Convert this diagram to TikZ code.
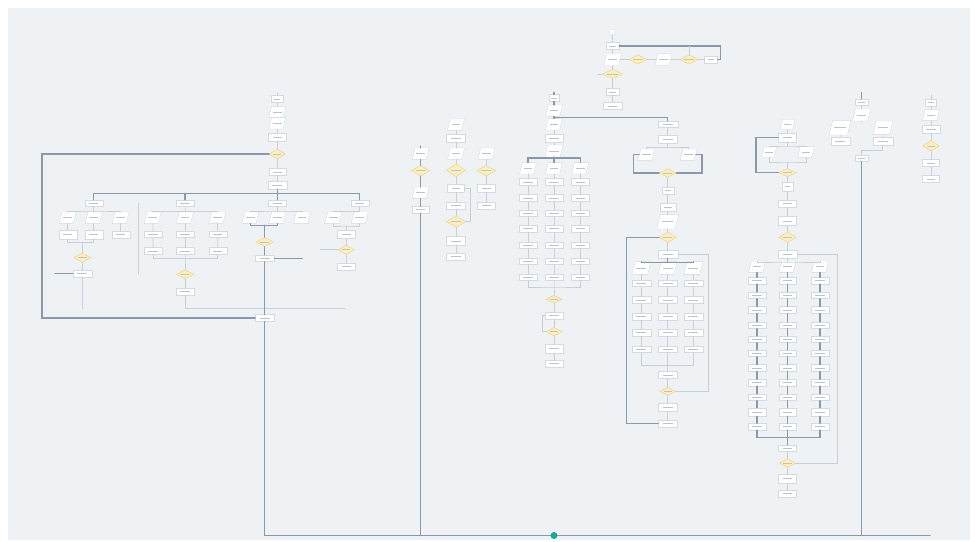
\documentclass[tikz,border=0pt]{standalone}
\usepackage{tikz}
\usetikzlibrary{shapes.geometric,calc}
\usepackage{xcolor}
\definecolor{canvas}{HTML}{EFF2F5}
\definecolor{wire}{HTML}{8A99AA}
\definecolor{wirelight}{HTML}{C6CFD9}
\definecolor{rim}{HTML}{D3DAE2}
\definecolor{decfill}{HTML}{FCEFC2}
\definecolor{decrim}{HTML}{F0D07A}
\definecolor{smear}{HTML}{BCC3CC}
\definecolor{okgreen}{HTML}{19A893}

\begin{document}
\begin{tikzpicture}[x=0.3mm,y=-0.3mm,line cap=round,
  smudge/.style={path picture={\fill[smear] ($(path picture bounding box.west)!0.24!(path picture bounding box.east)+(0,-0.3pt)$) rectangle ($(path picture bounding box.west)!0.76!(path picture bounding box.east)+(0,0.3pt)$);}},
  box/.style={draw=rim,fill=white,line width=0.3pt,inner sep=0pt,minimum width=#1*0.3mm,minimum height=2mm,smudge},
  box/.default=18,
  tall/.style={minimum height=2.5mm},
  io/.style={trapezium,trapezium left angle=76,trapezium right angle=104,draw=rim,fill=white,line width=0.3pt,inner sep=0.4pt,minimum width=#1*0.3mm,minimum height=1.6mm,smudge},
  io/.default=17,
  dec/.style={diamond,draw=decrim,fill=decfill,line width=0.4pt,inner sep=0.5pt,minimum width=#1*0.3mm,minimum height=2.8mm,smudge},
  dec/.default=17,
  flow/.style={draw=wire,line width=1.3pt},
  link/.style={draw=wirelight,line width=0.6pt}]
\useasboundingbox (0,0) rectangle (975,542);
\fill[white] (0,0) rectangle (975,542);
\fill[canvas] (8,8) rectangle (970,540);

% top start chain
\node[circle,draw=rim,fill=white,line width=0.3pt,minimum size=1.8mm,inner sep=0pt] (a0) at (612.5,32) {};
\node[box=13] (a1) at (612.5,46) {};
\node[io=18] (a2) at (612.5,59.5) {};
\node[dec=18] (a3) at (638,59.5) {};
\node[io=17] (a4) at (663.5,59.5) {};
\node[dec=18] (a5) at (689,59.5) {};
\node[box=13] (a6) at (711,59.5) {};
\node[dec=20] (a7) at (612.5,74) {};
\node[box=13] (a8) at (612.5,92) {};
\node[box=19] (a9) at (612.5,106) {};
\coordinate (a1r) at (720.7,46);
\coordinate (a7l) at (598,74);
\draw[link] (a0) -- (a1);
\draw[link] (a1) -- (a2) -- (a7) -- (a8) -- (a9);
\draw[link] (a2) -- (a3) -- (a4) -- (a5) -- (a6);
\draw[flow] (a1.east) -- (a1r) |- (a6.east);
\draw[link] (a5.north) -- (a5.north |- a1r);
\draw[link] (a7.west) -- (a7l);

% left block
\coordinate (b0) at (277.3,93);
\node[box=12] (b1) at (277.3,99) {};
\node[io=17] (b2) at (277.3,112) {};
\node[io=17] (b3) at (277.3,123.3) {};
\node[box=18,tall] (b4) at (277.3,137) {};
\node[dec=16,minimum height=3mm] (b5) at (277.3,154) {};
\node[box=17] (b6) at (277.3,172) {};
\node[box=19,tall] (b7) at (277.3,185) {};
\draw[link] (b0) -- (b1) -- (b2) -- (b3) -- (b4) -- (b5) -- (b6) -- (b7);
\node[box] (bh1) at (93.7,203.3) {};
\node[box] (bh2) at (185,203.3) {};
\node[box] (bh3) at (277.3,203.3) {};
\node[box] (bh4) at (359.7,203.3) {};
\coordinate (buse) at (359.7,193.5);
\draw[flow] (b7) -- (bh3);
\draw[flow] (bh1.north) |- (buse) -- (bh4.north);
\draw[flow] (bh2.north) -- (bh2.north |- buse);
\node[box=19] (bend) at (264.7,318) {};
\coordinate (loopc) at (42,318);
\draw[flow] (b5.west) -| (loopc) -- (bend.west);

% branch 1
\coordinate (j1) at (93.7,211);
\node[io] (bi11) at (67.7,217.7) {};
\node[io] (bi12) at (93.7,217.7) {};
\node[io] (bi13) at (120.7,217.7) {};
\node[box,tall] (bx11) at (67.7,234.7) {};
\node[box,tall] (bx12) at (93.7,234.7) {};
\node[box] (bx13) at (120.7,234.7) {};
\coordinate (m1) at (82.3,242.7);
\node[dec=17] (bd1) at (82.3,257.7) {};
\node[box=19] (bg1) at (82.3,273.7) {};
\coordinate (g1w) at (55,273.7);
\coordinate (g1s) at (82.3,308.7);
\draw[link] (bh1) -- (j1) -- (bi12);
\draw[link] (bi11.north) |- (j1) -| (bi13.north);
\draw[link] (bi11) -- (bx11);
\draw[link] (bi12) -- (bx12);
\draw[link] (bi13) -- (bx13);
\draw[link] (bx11.south) |- (m1) -| (bx12.south);
\draw[link] (m1) -- (bd1) -- (bg1) -- (g1s);
\draw[flow] (bg1.west) -- (g1w);

% branch 2
\coordinate (brk1) at (138.7,203.3);
\coordinate (brk2) at (138.7,274);
\draw[link] (brk1) -- (brk2);
\coordinate (j2) at (185,211.3);
\node[io] (bi21) at (152.7,217.7) {};
\node[io] (bi22) at (185,217.7) {};
\node[io] (bi23) at (217.3,217.7) {};
\node[box] (bx21) at (153,234.3) {};
\node[box] (bx22) at (185,234.3) {};
\node[box] (bx23) at (217.7,234.3) {};
\node[box] (by21) at (153,251) {};
\node[box] (by22) at (185,251) {};
\node[box] (by23) at (217.7,251) {};
\coordinate (m2) at (185,258.7);
\node[dec=17] (bd2) at (185,274.3) {};
\node[box] (bg2) at (185,291.7) {};
\coordinate (t2) at (345.3,308.7);
\draw[link] (bh2) -- (j2) -- (bi22);
\draw[link] (bi21.north) |- (j2) -| (bi23.north);
\draw[link] (bi21) -- (bx21) -- (by21);
\draw[link] (bi22) -- (bx22) -- (by22);
\draw[link] (bi23) -- (bx23) -- (by23);
\draw[link] (by21.south) |- (m2) -| (by23.south);
\draw[link] (by22) -- (m2) -- (bd2) -- (bg2);
\draw[link] (bg2.south) |- (t2);

% branch 3
\coordinate (j3) at (277.3,211);
\node[io] (bi31) at (250.3,217.7) {};
\node[io] (bi32) at (277.3,217.7) {};
\node[io] (bi33) at (302,217.7) {};
\coordinate (m3) at (264.7,225.3);
\node[dec=17] (bd3) at (264.7,242) {};
\node[box=19] (bg3) at (264.7,258.3) {};
\coordinate (g3e) at (302,258.3);
\draw[link] (bh3) -- (j3) -- (bi32);
\draw[link] (bi31.north) |- (j3) -| (bi33.north);
\draw[flow] (bi31.south) |- (m3) -| (bi32.south);
\draw[flow] (m3) -- (bd3) -- (bg3) -- (bend);
\draw[flow] (bg3.east) -- (g3e);

% branch 4
\coordinate (j4) at (359.7,211);
\node[io] (bi41) at (333.3,217.7) {};
\node[io] (bi42) at (359.7,217.7) {};
\coordinate (m4) at (346.3,226);
\node[box,tall] (bx41) at (346.3,234.3) {};
\node[dec=16] (bd4) at (346.3,249.7) {};
\node[box] (bg4) at (346.3,266.7) {};
\coordinate (d4w) at (320,249.7);
\draw[link] (bh4) -- (j4) -- (bi42);
\draw[link] (bi41.north) |- (j4);
\draw[link] (bi41.south) |- (m4) -| (bi42.south);
\draw[link] (m4) -- (bx41) -- (bd4) -- (bg4);
\draw[link] (bd4.west) -- (d4w);

% middle-left block
\coordinate (k0) at (420.5,146);
\node[io,minimum height=2mm] (cl1) at (420.5,153.7) {};
\node[dec=18,minimum height=3.2mm] (cl2) at (420.5,170.7) {};
\node[io] (cl3) at (420.5,192.7) {};
\node[box=17] (cl4) at (420.5,209.7) {};
\draw[flow] (k0) -- (cl1) -- (cl2) -- (cl3) -- (cl4);
\node[io,minimum height=2mm] (cm1) at (456,124.7) {};
\node[box=19,tall] (cm2) at (456,138) {};
\node[io] (cm3) at (456,153.7) {};
\node[dec=19,minimum height=3.8mm] (cm4) at (456,170.3) {};
\node[box=17,tall] (cm5) at (456,188) {};
\node[box=19] (cm6) at (456,205.7) {};
\node[dec=19,minimum height=3.3mm] (cm7) at (456,221.7) {};
\node[box=19,minimum height=2.6mm] (cm8) at (456,241) {};
\node[box=19] (cm9) at (456,256.7) {};
\draw[link] (cm1) -- (cm2) -- (cm3) -- (cm4) -- (cm5) -- (cm6) -- (cm7) -- (cm8) -- (cm9);
\draw[link] (cm5.east) -- (470,188) |- (cm7.east);
\node[io] (cr1) at (486.3,153.7) {};
\node[dec=19,minimum height=3.2mm] (cr2) at (486.3,170.7) {};
\node[box,tall] (cr3) at (486.3,188.3) {};
\node[box] (cr4) at (486.3,205.7) {};
\draw[link] (cr1) -- (cr2) -- (cr3) -- (cr4);

% centre block
\coordinate (d0) at (554,92.5);
\node[box=10] (d1) at (554,98) {};
\node[io] (d2) at (554,110.7) {};
\node[io] (d3) at (554,124.3) {};
\node[box,tall] (d4) at (554,138.3) {};
\node[io=18,minimum height=2mm] (d5) at (554,151) {};
\coordinate (dj) at (554,117.3);
\coordinate (dk) at (554,158);
\node[io] (di1) at (528,168.3) {};
\node[io] (di2) at (554,168.3) {};
\node[io] (di3) at (580.3,168.3) {};
\node[box=20] (e1) at (667.7,124.3) {};
\draw[flow] (d0) -- (d1) -- (d2) -- (d3);
\draw[flow] (dj) -| (e1.north);
\draw[link] (d3) -- (d4) -- (d5);
\draw[flow] (d5) -- (dk) -- (di2);
\draw[flow] (di1.north) |- (dk) -| (di3.north);
\foreach \c/\x in {1/528,2/554,3/580.3}{
  \foreach \r/\y in {1/182,2/198,3/213.3,4/228.7,5/245.3,6/261.3,7/277.3}
    \node[box] (dg\c-\r) at (\x,\y) {};
  \draw[link] (di\c) -- (dg\c-1);
  \foreach \r [count=\s from 2] in {1,...,6}
    \draw[link] (dg\c-\r) -- (dg\c-\s);
}
\coordinate (dm) at (554,287);
\node[dec=16,minimum height=2.4mm] (dd1) at (554,299.3) {};
\node[box] (db1) at (554,315.7) {};
\node[dec=16,minimum height=2.6mm] (dd2) at (554,331.7) {};
\node[box,minimum height=2.8mm] (db2) at (554,348.7) {};
\node[box] (db3) at (554,363.7) {};
\draw[link] (dg1-7.south) |- (dm) -| (dg3-7.south);
\draw[link] (dg2-7) -- (dm) -- (dd1) -- (db1) -- (dd2) -- (db2) -- (db3);
\draw[link] (dd2.west) -- (542,331.7) |- (db1.west);

% right-centre block
\node[box=19,tall] (e2) at (667.7,139) {};
\coordinate (ek) at (667.7,147.3);
\node[io] (ei1) at (646.3,154.7) {};
\node[io] (ei2) at (688.7,154.7) {};
\node[dec=17,minimum height=2.6mm] (ed1) at (667.7,173) {};
\node[box=12] (e5) at (667.7,190.7) {};
\node[box=16,tall] (e6) at (667.7,207) {};
\node[io=22,minimum height=2.2mm] (e7) at (667.7,221.7) {};
\node[dec=17,minimum height=3.2mm] (ed2) at (667.7,237.3) {};
\node[box=20,tall] (e9) at (667.7,254) {};
\draw[link] (e1) -- (e2) -- (ek);
\draw[link] (ei1.north) |- (ek) -| (ei2.north);
\draw[flow] (ei1.west) -- (633.3,154.7) |- (ed1.west);
\draw[flow] (ei2.east) -- (702,154.7) |- (ed1.east);
\draw[link] (ed1) -- (e5) -- (e6) -- (e7) -- (ed2) -- (e9);
\coordinate (ej) at (667.7,262.7);
\node[io=19] (ej1) at (641.3,268) {};
\node[io=19] (ej2) at (667.7,268) {};
\node[io=19] (ej3) at (693.3,268) {};
\draw[flow] (e9) -- (ej) -- (ej2);
\draw[flow] (ej1.north) |- (ej) -| (ej3.north);
\foreach \c/\x in {1/641.3,2/667.7,3/693.3}{
  \foreach \r/\y in {1/283.3,2/300,3/316.7,4/332.7,5/349.3}
    \node[box=19] (eg\c-\r) at (\x,\y) {};
  \draw[link] (ej\c) -- (eg\c-1);
  \foreach \r [count=\s from 2] in {1,...,4}
    \draw[link] (eg\c-\r) -- (eg\c-\s);
}
\coordinate (em) at (667.7,365.3);
\node[box=19] (e11) at (667.7,375) {};
\node[dec=16,minimum height=2.4mm] (ed3) at (667.7,391.3) {};
\node[box=19,tall] (e13) at (667.7,407.3) {};
\node[box=19] (e14) at (667.7,423.7) {};
\draw[link] (eg1-5.south) |- (em) -| (eg3-5.south);
\draw[link] (eg2-5) -- (em) -- (e11) -- (ed3) -- (e13) -- (e14);
\draw[flow] (ed2.west) -- (626.7,237.3) |- (e14.west);
\draw[link] (ed3.east) -- (708.7,391.3) |- (e9.east);

% right block
\node[io=15,minimum height=2mm] (f1) at (787.5,124.3) {};
\node[box,tall] (f2) at (787.5,137.7) {};
\coordinate (fk) at (787.5,146);
\node[io=15] (fi1) at (769,152) {};
\node[io,minimum height=2.1mm] (fi2) at (806,152) {};
\coordinate (fm) at (787.5,162);
\node[dec=18,minimum height=2.4mm] (fd1) at (787.5,172.7) {};
\node[box=11,tall] (f5) at (787.5,186.7) {};
\node[box] (f6) at (787.5,203.7) {};
\node[box,minimum height=2.6mm] (f7) at (787.5,221) {};
\node[dec=17,minimum height=3.2mm] (fd2) at (787.5,237.3) {};
\node[box=19,tall] (f9) at (787.5,254.3) {};
\draw[link] (f1) -- (f2) -- (fk);
\draw[link] (fi1.north) |- (fk) -| (fi2.north);
\draw[link] (fi1.south) |- (fm) -| (fi2.south);
\draw[link] (fm) -- (fd1);
\draw[flow] (f2.west) -- (756,137.7) |- (fd1.west);
\draw[link] (fd1) -- (f5) -- (f6) -- (f7) -- (fd2) -- (f9);
\coordinate (fj) at (787.5,262);
\node[io] (fj1) at (757,266.7) {};
\node[io] (fj2) at (787.5,266.7) {};
\node[io] (fj3) at (820,266.7) {};
\draw[link] (f9) -- (fj) -- (fj2);
\draw[link] (fj1.north) |- (fj) -| (fj3.north);
\foreach \c/\x in {1/757,2/787.5,3/820}{
  \foreach \r/\y in {1/280.7,2/295.3,3/310,4/325.3,5/339.3,6/353.3,7/368,8/382.7,9/397.3,11/426.7}
    \node[box=17.5] (fg\c-\r) at (\x,\y) {};
  \node[box=17.5,tall] (fg\c-10) at (\x,412) {};
  \draw[flow] (fj\c) -- (fg\c-1);
  \foreach \r [count=\s from 2] in {1,...,10}
    \draw[flow] (fg\c-\r) -- (fg\c-\s);
}
\coordinate (fm2) at (787.5,437.3);
\node[box] (f11) at (787.5,448.3) {};
\node[dec=16,minimum height=2.6mm] (fd3) at (787.5,463) {};
\node[box,tall] (f13) at (787.5,478.7) {};
\node[box] (f14) at (787.5,493.7) {};
\draw[flow] (fg1-11.south) |- (fm2) -| (fg3-11.south);
\draw[flow] (fg2-11) -- (fm2) -- (f11);
\draw[link] (f11) -- (fd3) -- (f13) -- (f14);
\draw[link] (fd3.east) -- (837.3,463) |- (f9.east);

% far right
\coordinate (g0) at (861.5,92.5);
\node[box=13] (g1) at (861.5,102.3) {};
\node[io=18] (g2) at (861.5,115) {};
\coordinate (g2s) at (861.5,122);
\node[io=22,minimum height=2mm] (gi1) at (840,127.7) {};
\node[io=20,minimum height=2mm] (gi2) at (883,127.7) {};
\node[box=19,tall] (gb1) at (840.3,141.3) {};
\node[box=20,tall] (gb2) at (882.7,141.3) {};
\coordinate (gk) at (861.5,150);
\node[box=13] (g5) at (861.5,158.3) {};
\draw[flow] (g0) -- (g1);
\draw[link] (g1) -- (g2) -- (g2s);
\draw[link] (gi1) -- (gb1);
\draw[link] (gi2) -- (gb2);
\draw[link] (gb2.south) |- (gk) -- (g5);
\coordinate (h0) at (931,95);
\node[box=11] (h1) at (931,102.7) {};
\node[io] (h2) at (931,115) {};
\node[box,tall] (h3) at (931,129.3) {};
\node[dec=17,minimum height=3.2mm] (hd4) at (931,146) {};
\node[box=17] (h5) at (931,163) {};
\node[box=17] (h6) at (931,179) {};
\draw[link] (h0) -- (h1) -- (h2) -- (h3) -- (hd4) -- (h5) -- (h6);

% bottom return
\coordinate (bl) at (264.7,535.5);
\coordinate (br) at (930,535.5);
\draw[flow] (bend) -- (bl) -- (br);
\draw[flow] (cl4) -- (cl4 |- bl);
\draw[flow] (g5) -- (g5 |- bl);
\node[circle,fill=okgreen,minimum size=2.1mm,inner sep=0pt] (done) at (554,535.5) {};
\end{tikzpicture}
\end{document}
